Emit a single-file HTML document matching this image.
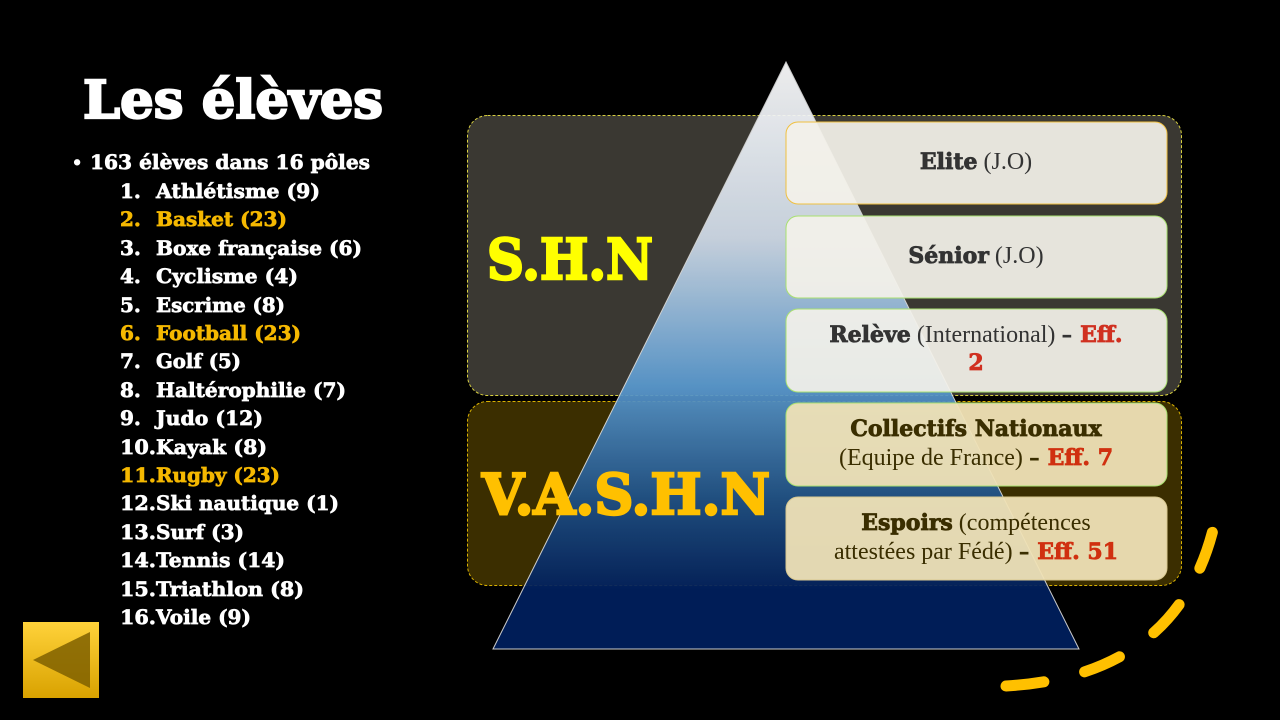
<!DOCTYPE html>
<html><head><meta charset="utf-8"><style>
html,body{margin:0;padding:0;background:#000;width:1280px;height:720px;overflow:hidden}
svg{display:block}
.h{font-family:"DejaVu Serif","Liberation Serif",serif;font-weight:bold}
.s{font-family:"Liberation Serif",serif}
</style></head><body>
<svg width="1280" height="720" viewBox="0 0 1280 720" xmlns="http://www.w3.org/2000/svg">
<defs>
<linearGradient id="pg" x1="0" y1="62" x2="0" y2="649" gradientUnits="userSpaceOnUse">
<stop offset="0" stop-color="#ffffff"/>
<stop offset="0.3" stop-color="#d0dbe8"/>
<stop offset="0.55" stop-color="#5a9ad0"/>
<stop offset="0.75" stop-color="#1d4f86"/>
<stop offset="0.9" stop-color="#01205e"/>
<stop offset="1" stop-color="#01205e"/>
</linearGradient>
<linearGradient id="bg" x1="0" y1="0" x2="0" y2="1">
<stop offset="0" stop-color="#ffd23a"/><stop offset="1" stop-color="#d9a200"/>
</linearGradient>
</defs>
<rect width="1280" height="720" fill="#000"/>
<text class="h" x="83" y="118" font-size="52" fill="#fff" stroke="#fff" stroke-width="2.2" textLength="300" lengthAdjust="spacingAndGlyphs">Les élèves</text>
<g class="h" font-size="20" fill="#fff" stroke="#fff" stroke-width="0.7">
<text x="72" y="168" font-size="16">•</text>
<text x="90" y="169" textLength="280" lengthAdjust="spacingAndGlyphs">163 élèves dans 16 pôles</text>
</g>
<g class="h" font-size="20" stroke-width="0.7">
<g fill="#fff" stroke="#fff">
<text x="120" y="198">1.</text><text x="156" y="198" textLength="164" lengthAdjust="spacingAndGlyphs">Athlétisme (9)</text>
<text x="120" y="255">3.</text><text x="156" y="255" textLength="206" lengthAdjust="spacingAndGlyphs">Boxe française (6)</text>
<text x="120" y="283">4.</text><text x="156" y="283" textLength="142" lengthAdjust="spacingAndGlyphs">Cyclisme (4)</text>
<text x="120" y="312">5.</text><text x="156" y="312" textLength="129" lengthAdjust="spacingAndGlyphs">Escrime (8)</text>
<text x="120" y="368">7.</text><text x="156" y="368" textLength="85" lengthAdjust="spacingAndGlyphs">Golf (5)</text>
<text x="120" y="397">8.</text><text x="156" y="397" textLength="190" lengthAdjust="spacingAndGlyphs">Haltérophilie (7)</text>
<text x="120" y="425">9.</text><text x="156" y="425" textLength="107" lengthAdjust="spacingAndGlyphs">Judo (12)</text>
<text x="120" y="454" textLength="36" lengthAdjust="spacingAndGlyphs">10.</text><text x="156" y="454" textLength="111" lengthAdjust="spacingAndGlyphs">Kayak (8)</text>
<text x="120" y="510" textLength="36" lengthAdjust="spacingAndGlyphs">12.</text><text x="156" y="510" textLength="183" lengthAdjust="spacingAndGlyphs">Ski nautique (1)</text>
<text x="120" y="539" textLength="36" lengthAdjust="spacingAndGlyphs">13.</text><text x="156" y="539" textLength="88" lengthAdjust="spacingAndGlyphs">Surf (3)</text>
<text x="120" y="567" textLength="36" lengthAdjust="spacingAndGlyphs">14.</text><text x="156" y="567" textLength="129" lengthAdjust="spacingAndGlyphs">Tennis (14)</text>
<text x="120" y="596" textLength="36" lengthAdjust="spacingAndGlyphs">15.</text><text x="156" y="596" textLength="148" lengthAdjust="spacingAndGlyphs">Triathlon (8)</text>
<text x="120" y="624" textLength="36" lengthAdjust="spacingAndGlyphs">16.</text><text x="156" y="624" textLength="95" lengthAdjust="spacingAndGlyphs">Voile (9)</text>
</g>
<g fill="#f5b800" stroke="#f5b800">
<text x="120" y="226">2.</text><text x="156" y="226" textLength="131" lengthAdjust="spacingAndGlyphs">Basket (23)</text>
<text x="120" y="340">6.</text><text x="156" y="340" textLength="145" lengthAdjust="spacingAndGlyphs">Football (23)</text>
<text x="120" y="482" textLength="36" lengthAdjust="spacingAndGlyphs">11.</text><text x="156" y="482" textLength="124" lengthAdjust="spacingAndGlyphs">Rugby (23)</text>
</g>
</g>
<rect x="23" y="622" width="76" height="76" fill="url(#bg)"/>
<polygon points="33,660 90,632 90,688" fill="#7f6000" opacity="0.85"/>
<rect x="467.5" y="115.5" width="714" height="280" rx="20" fill="#3a3832" stroke="#d8d040" stroke-dasharray="3,2" stroke-width="1"/>
<rect x="467.5" y="401.5" width="714" height="184" rx="20" fill="#3b2e00" stroke="#d8b000" stroke-dasharray="3,2" stroke-width="1"/>
<polygon points="786,62 1079,649 493,649" fill="url(#pg)" opacity="0.93" stroke="#ddd" stroke-width="1"/>
<text class="h" x="487" y="279" font-size="56" fill="#ffff00" stroke="#ffff00" stroke-width="2.5" textLength="166" lengthAdjust="spacingAndGlyphs">S.H.N</text>
<text class="h" x="482" y="514" font-size="56" fill="#ffc000" stroke="#ffc000" stroke-width="2.5" textLength="288" lengthAdjust="spacingAndGlyphs">V.A.S.H.N</text>
<rect x="786" y="122" width="381" height="82" rx="12" fill="#f3f1ea" fill-opacity="0.93" stroke="#f0c040"/>
<rect x="786" y="216" width="381" height="82" rx="12" fill="#f3f1ea" fill-opacity="0.93" stroke="#a8e070"/>
<rect x="786" y="309" width="381" height="83" rx="12" fill="#f3f1ea" fill-opacity="0.93" stroke="#a8e070"/>
<rect x="786" y="403" width="381" height="83" rx="12" fill="#efe2b6" fill-opacity="0.95" stroke="#a8e070"/>
<rect x="786" y="497" width="381" height="83" rx="12" fill="#efe2b6" fill-opacity="0.95" stroke="#d8c890"/>
<g font-size="24" fill="#333" text-anchor="middle">
<text x="976" y="169"><tspan class="h" font-size="22" stroke="#333" stroke-width="0.8">Elite</tspan><tspan class="s"> (J.O)</tspan></text>
<text x="976" y="263"><tspan class="h" font-size="22" stroke="#333" stroke-width="0.8">Sénior</tspan><tspan class="s"> (J.O)</tspan></text>
<text x="976" y="342"><tspan class="h" font-size="22" stroke="#333" stroke-width="0.8">Relève</tspan><tspan class="s"> (International) </tspan><tspan class="h" font-size="22">– </tspan><tspan class="h" font-size="22" fill="#d03020" stroke="#d03020" stroke-width="0.8">Eff.</tspan></text>
<text x="976" y="370" class="h" font-size="22" fill="#d03020" stroke="#d03020" stroke-width="0.8">2</text>
<text x="976" y="436" class="h" font-size="22" fill="#3a2e00" stroke="#3a2e00" stroke-width="0.8">Collectifs Nationaux</text>
<text x="976" y="465" fill="#3a2e00"><tspan class="s">(Equipe de France) </tspan><tspan class="h" font-size="22">– </tspan><tspan class="h" font-size="22" fill="#d03010" stroke="#d03010" stroke-width="0.8">Eff. 7</tspan></text>
<text x="976" y="530" fill="#3a2e00"><tspan class="h" font-size="22" stroke="#3a2e00" stroke-width="0.8">Espoirs</tspan><tspan class="s"> (compétences</tspan></text>
<text x="976" y="559" fill="#3a2e00"><tspan class="s">attestées par Fédé) </tspan><tspan class="h" font-size="22">– </tspan><tspan class="h" font-size="22" fill="#d03010" stroke="#d03010" stroke-width="0.8">Eff. 51</tspan></text>
</g>
<path d="M1006,686 Q1195,675 1220,494" fill="none" stroke="#ffc000" stroke-width="11" stroke-linecap="round" stroke-dasharray="38,42"/>
</svg>
</body></html>
